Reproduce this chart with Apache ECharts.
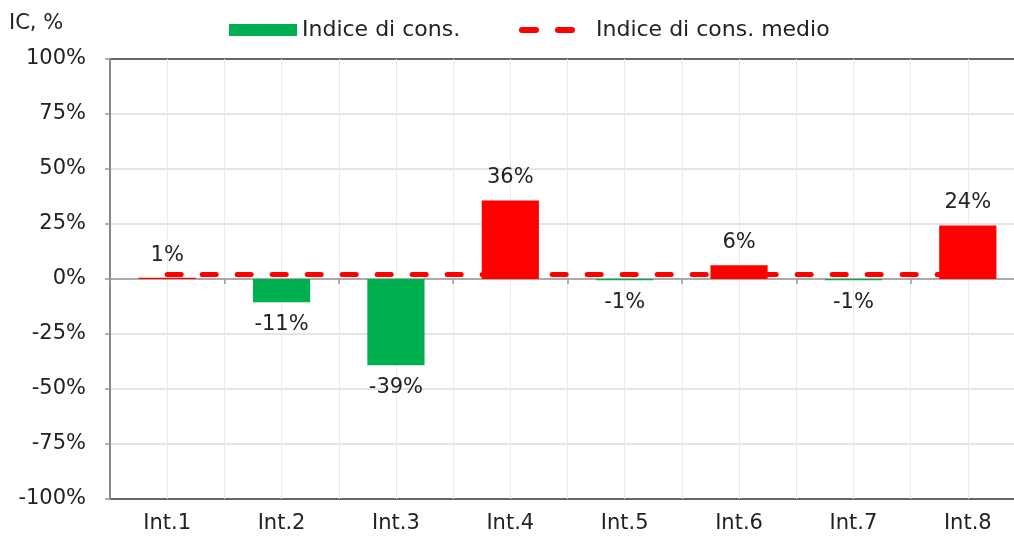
<!DOCTYPE html>
<html>
<head>
<meta charset="utf-8" />
<title>Indice di cons.</title>
<script src="https://cdn.jsdelivr.net/npm/echarts@6/dist/echarts.min.js"></script>
<style>
    html, body { margin: 0; padding: 0; background: #fff; }
    #main { width: 1014px; height: 541px; }
</style>
</head>
<body>
<div id="main"></div>
<script type="text/javascript">
    // dati
    var categorie = ['Int.1', 'Int.2', 'Int.3', 'Int.4', 'Int.5', 'Int.6', 'Int.7', 'Int.8'];
    var indice = [0.6, -10.6, -39.2, 35.7, -0.6, 6.2, -0.6, 24.3];
    var medio = [2, 2, 2, 2, 2, 2, 2, 2];
    var tickY = [-100, -75, -50, -25, 0, 25, 50, 75, 100];

    var font = 'DejaVu Sans';
    var testo = '#222';
    var fs = 21;

    var barData = indice.map(function (v) {
        return {
            value: v,
            itemStyle: { color: v >= 0 ? '#ff0000' : '#00b050' },
            label: { position: v >= 0 ? 'top' : 'bottom' }
        };
    });

    var splitColors = tickY.map(function (t, i) {
        return (i === 0 || i === tickY.length - 1) ? '#333' : '#dcdcdc';
    });

    // icona tratteggiata per la legenda (due trattini arrotondati)
    var iconaTratteggio = 'path://M3,0H17A3,3 0 0 1 17,6H3A3,3 0 0 1 3,0Z' +
        'M39,0H53A3,3 0 0 1 53,6H39A3,3 0 0 1 39,0Z';

    var myChart = echarts.init(document.getElementById('main'));
    var option = {
        animation: false,
        textStyle: { fontFamily: font },
        title: {
            text: 'IC, %',
            left: 4, top: 8,
            textStyle: { fontFamily: font, fontSize: fs, fontWeight: 'normal', color: testo }
        },
        legend: [{
            data: [{ name: 'Indice di cons.', icon: 'rect', itemStyle: { color: '#00b050' } }],
            left: 229, top: 19, padding: 0,
            itemWidth: 68, itemHeight: 12,
            textStyle: { fontFamily: font, fontSize: 22, color: testo }
        }, {
            data: [{ name: 'Indice di cons. medio', icon: iconaTratteggio, itemStyle: { color: '#ff0000' } }],
            left: 519, top: 19, padding: 0,
            itemWidth: 56, itemHeight: 6,
            textStyle: { fontFamily: font, fontSize: 22, color: testo, padding: [0, 0, 0, 16] }
        }],
        grid: { left: 110, top: 59, height: 440, width: 915, outerBoundsMode: 'none', containLabel: false },
        xAxis: [{
            type: 'category',
            data: categorie,
            position: 'bottom',
            axisLine: { onZero: true, lineStyle: { color: '#999', width: 1.5 } },
            axisTick: { show: true, length: 5, lineStyle: { color: '#999', width: 1.5 } },
            axisLabel: { show: false },
            splitLine: { show: false }
        }, {
            type: 'value',
            min: 0, max: 16, interval: 1,
            position: 'bottom',
            axisLine: { show: false, onZero: false },
            axisTick: { show: false },
            axisLabel: {
                margin: 14,
                fontSize: fs, color: testo,
                formatter: function (v) {
                    return v % 2 === 1 ? categorie[(v - 1) / 2] : '';
                }
            },
            splitLine: { show: true, lineStyle: { color: '#ebebeb', width: 1 } }
        }],
        yAxis: {
            type: 'value',
            min: -100, max: 100, interval: 25,
            axisLine: { show: true, lineStyle: { color: '#888', width: 2 } },
            axisTick: { show: true, length: 5, lineStyle: { color: '#999', width: 1.5 } },
            axisLabel: {
                margin: 24,
                fontSize: fs, color: testo,
                formatter: function (v) { return v + '%'; }
            },
            splitLine: { show: true, lineStyle: { color: splitColors, width: 1.5 } }
        },
        series: [{
            name: 'Indice di cons. medio',
            type: 'line',
            xAxisIndex: 0,
            data: medio,
            symbol: 'none',
            z: 2,
            itemStyle: { color: '#ff0000' },
            lineStyle: { color: '#ff0000', width: 5, type: [14, 21], cap: 'round' }
        }, {
            name: 'Indice di cons.',
            type: 'bar',
            xAxisIndex: 0,
            data: barData,
            barWidth: '50%',
            z: 3,
            itemStyle: { color: '#00b050' },
            label: {
                show: true,
                distance: 12,
                fontSize: fs, color: testo,
                formatter: function (p) { return Math.round(p.value) + '%'; }
            }
        }]
    };
    myChart.setOption(option);
</script>
</body>
</html>
